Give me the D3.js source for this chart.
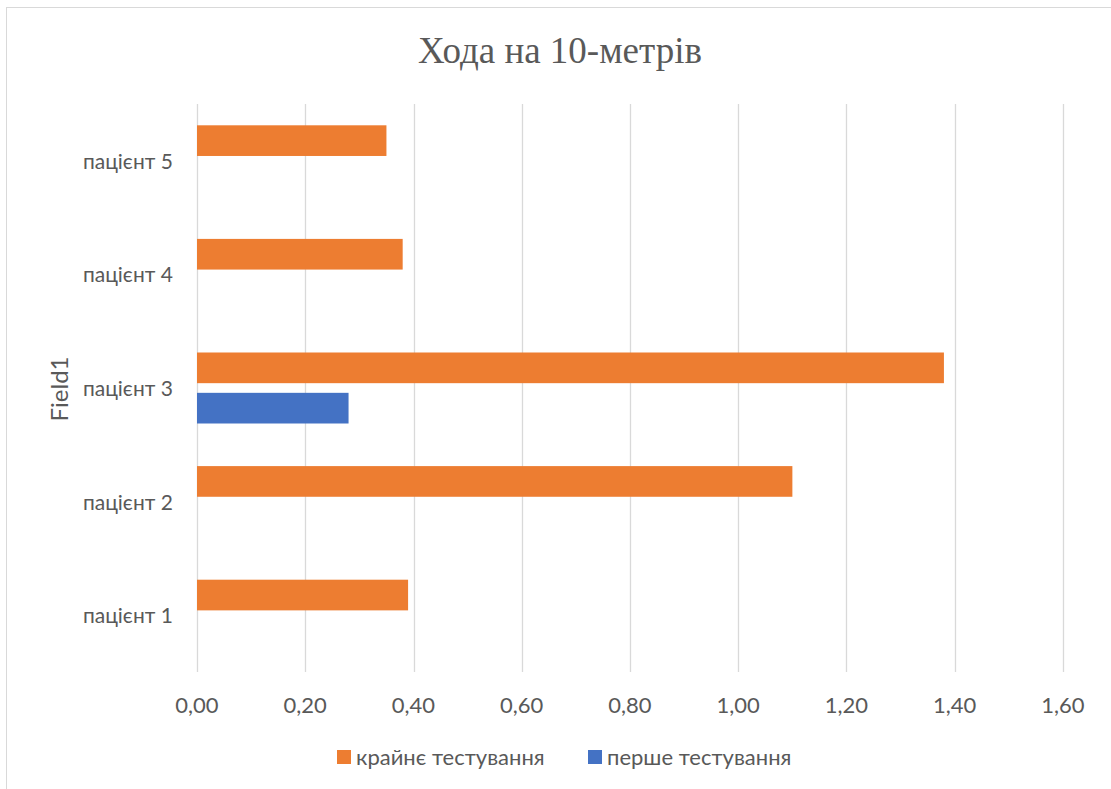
<!DOCTYPE html>
<html><head><meta charset="utf-8">
<script src="https://cdn.jsdelivr.net/npm/d3@7"></script>
<style>body{margin:0;background:#fff}svg{display:block}</style>
</head><body>
<script>
const categories = ["пацієнт 1","пацієнт 2","пацієнт 3","пацієнт 4","пацієнт 5"];
const seriesNames = ["крайнє тестування","перше тестування"];
const lastTest = [0.39, 1.10, 1.38, 0.38, 0.35];
const firstTest = [0, 0, 0.28, 0, 0];
const xTicks = [0,0.2,0.4,0.6,0.8,1.0,1.2,1.4,1.6];
const colors = ["#ED7D31","#4472C4"];
const title = "Хода на 10-метрів";
const yTitle = "Field1";

(function(){
const W=1111,H=789;
const svg=d3.select("body").append("svg").attr("width",W).attr("height",H);
svg.append("rect").attr("x",6.5).attr("y",7.5).attr("width",W+10).attr("height",H+10)
  .attr("fill","#fff").attr("stroke","#d9d9d9").attr("stroke-width",1);

const pL=197,pR=1063,pT=104,pB=672;
const x=d3.scaleLinear().domain([0,1.6]).range([pL,pR]);
const y=d3.scaleBand().domain(categories.slice().reverse()).range([pT,pB]);
const bw=y.bandwidth();

svg.append("g").selectAll("line").data(xTicks).join("line")
  .attr("x1",d=>Math.round(x(d))+0.5).attr("x2",d=>Math.round(x(d))+0.5)
  .attr("y1",pT).attr("y2",pB).attr("stroke","#d9d9d9").attr("stroke-width",1.3);

const font="Lato, 'Noto Sans', sans-serif";
svg.append("g").selectAll("text").data(xTicks).join("text")
  .attr("x",d=>x(d)).attr("y",713).attr("text-anchor","middle")
  .attr("font-family",font).attr("font-size",22).attr("fill","#595959")
  .text(d=>d3.format(".2f")(d).replace(".",","));

svg.append("g").selectAll("text").data(categories).join("text")
  .attr("x",173).attr("y",d=>y(d)+bw/2+8).attr("text-anchor","end")
  .attr("font-family",font).attr("font-size",21).attr("fill","#595959")
  .text(d=>d);

const barH=bw*0.27, gap=bw*0.085;
const series=[lastTest, firstTest];
series.forEach((vals,si)=>{
  svg.append("g").selectAll("rect").data(categories).join("rect")
    .attr("x",x(0)).attr("width",(d,i)=>x(vals[i])-x(0))
    .attr("y",d=>y(d)+bw/2+(si===0? -gap/2-barH : gap/2))
    .attr("height",barH).attr("fill",colors[si]);
});

svg.append("text").attr("x",560).attr("y",63).attr("text-anchor","middle")
  .attr("font-family","'Liberation Serif', serif").attr("font-size",37).attr("fill","#595959")
  .text(title);

svg.append("text").attr("transform","translate(68,389) rotate(-90)").attr("text-anchor","middle")
  .attr("font-family",font).attr("font-size",24).attr("fill","#595959").text(yTitle);

const legX=[337,588];
seriesNames.forEach((n,i)=>{
  svg.append("rect").attr("x",legX[i]).attr("y",750).attr("width",14).attr("height",14).attr("fill",colors[i]);
  svg.append("text").attr("x",legX[i]+19).attr("y",765).attr("font-family",font).attr("font-size",22)
    .attr("fill","#595959").text(n);
});
})();
</script>
</body></html>
